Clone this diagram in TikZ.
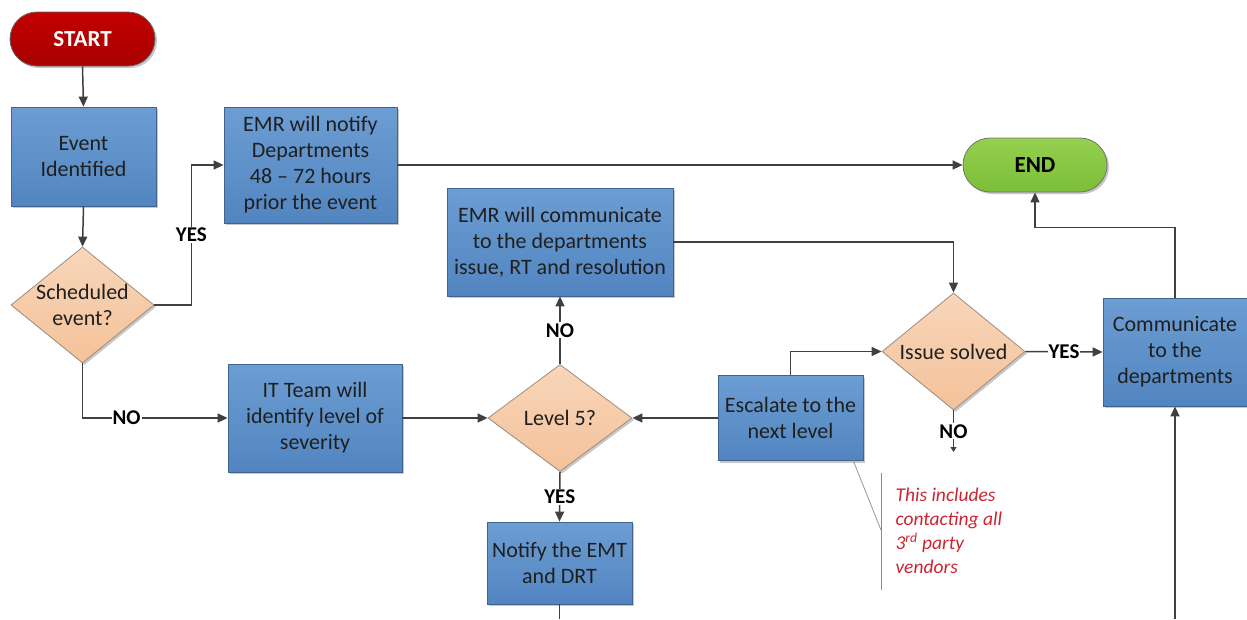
\documentclass[tikz,border=0pt]{standalone}
\usepackage{fontspec}
\setmainfont{Carlito}
\usetikzlibrary{shapes.geometric,arrows.meta,shadows}
\definecolor{boxtop}{HTML}{6C9DD3}
\definecolor{boxbot}{HTML}{5285C0}
\definecolor{boxline}{HTML}{41648C}
\definecolor{dtop}{HTML}{F8D6BA}
\definecolor{dbot}{HTML}{F4C29A}
\definecolor{dline}{HTML}{A08C7C}
\definecolor{starttop}{HTML}{C20000}
\definecolor{startbot}{HTML}{A80000}
\definecolor{endtop}{HTML}{95D04E}
\definecolor{endbot}{HTML}{7BBE38}
\definecolor{conn}{HTML}{404040}
\definecolor{notered}{HTML}{CC2530}
\tikzset{
  shadowed/.style={drop shadow={shadow xshift=2pt, shadow yshift=-2pt, opacity=0.22, fill=black}},
  proc/.style={rectangle, draw=boxline, line width=0.8pt, top color=boxtop, bottom color=boxbot,
    align=center, font=\fontsize{22}{26}\selectfont, text=black!88, inner sep=0pt, shadowed},
  decis/.style={diamond, draw=dline, line width=0.8pt, top color=dtop, bottom color=dbot,
    inner sep=0pt, shadowed},
  dtext/.style={align=center, font=\fontsize{22}{26}\selectfont, text=black!88},
  pill/.style={rectangle, rounded corners=27pt, line width=0.8pt, minimum width=145pt,
    minimum height=54pt, font=\bfseries\fontsize{23}{26}\selectfont, shadowed},
  conn/.style={draw=conn, line width=1.5pt},
  arr/.style={conn, -{Triangle[length=10pt,width=9pt]}},
  lbl/.style={fill=white, inner sep=1pt, font=\bfseries\fontsize{21}{22}\selectfont, text=black},
}
\begin{document}
\begin{tikzpicture}[x=1pt,y=-1pt]
\useasboundingbox (0,0) rectangle (1247,619);
% nodes
\node[pill, draw=black!60, top color=starttop, bottom color=startbot, text=white] (start) at (82.5,39) {START};
\node[proc, minimum width=145pt, minimum height=99pt] (event) at (83.5,156.5) {Event\\Identified};
\node[decis, minimum width=143pt, minimum height=116pt, label={[dtext]center:{Scheduled\\event?}}] (sched) at (82.5,305) {};
\node[proc, minimum width=173pt, minimum height=116pt] (notify) at (310.5,165) {EMR will notify\\Departments\\48 -- 72 hours\\prior the event};
\node[pill, minimum width=144pt, draw=black!55, top color=endtop, bottom color=endbot, text=black] (end) at (1035,165) {END};
\node[proc, minimum width=226pt, minimum height=108pt] (emrc) at (560,242) {EMR will communicate\\to the departments\\issue, RT and resolution};
\node[decis, minimum width=144pt, minimum height=107pt, label={[dtext]center:{Level 5?}}] (l5) at (560,418) {};
\node[proc, minimum width=174pt, minimum height=108pt] (it) at (315,418) {IT Team will\\identify level of\\severity};
\node[proc, minimum width=145pt, minimum height=85pt] (esc) at (790.5,418) {Escalate to the\\next level};
\node[decis, minimum width=143pt, minimum height=117pt, label={[dtext]center:{Issue solved}}] (issue) at (953.5,351.5) {};
\node[proc, minimum width=144pt, minimum height=108pt] (comm) at (1175,352) {Communicate\\to the\\departments};
\node[proc, minimum width=145pt, minimum height=82pt] (emt) at (559.5,563) {Notify the EMT\\and DRT};
\coordinate (nodown) at (953.5,452);
\coordinate (botc) at (1175,619);
\coordinate (bote) at (559.5,619);
% connectors
\draw[arr] (start.south) -- (event.north);
\draw[arr] (event.south) -- (sched.north);
\draw[arr] (sched.east) -- ++(37,0) |- node[lbl,pos=0.25]{YES} (notify.west);
\draw[arr] (sched.south) |- node[lbl,pos=0.652]{NO} (it.west);
\draw[arr] (notify.east) -- (end.west);
\draw[arr] (it.east) -- (l5.west);
\draw[arr] (esc.west) -- (l5.east);
\draw[arr] (l5.north) -- node[lbl]{NO} (emrc.south);
\draw[arr] (l5.south) -- node[lbl]{YES} (emt.north);
\draw[arr] (emrc.east) -| (issue.north);
\draw[arr] (esc.north) |- (issue.west);
\draw[arr] (issue.east) -- node[lbl]{YES} (comm.west);
\draw[conn, -{Triangle[length=5pt,width=6pt]}] (issue.south) -- node[lbl]{NO} (nodown);
\draw[arr] (comm.north) -- ++(0,-70) -| (end.south);
\draw[arr] (botc) -- (comm.south);
\draw[conn] (emt.south) -- (bote);
% annotation
\draw[draw=black!45, line width=0.7pt] (853,460) -- (881,530);
\draw[draw=black!45, line width=0.7pt] (881,473) -- (881,590);
\node[anchor=west, align=left, text=notered, font=\itshape\fontsize{19.5}{24}\selectfont] (note) at (892,531)
  {This includes\\contacting all\\3\textsuperscript{rd} party\\vendors};
\end{tikzpicture}
\end{document}
